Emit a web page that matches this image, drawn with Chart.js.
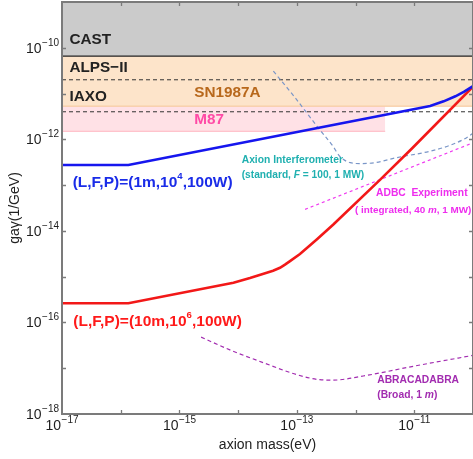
<!DOCTYPE html>
<html>
<head>
<meta charset="utf-8">
<script src="https://cdn.jsdelivr.net/npm/chart.js@4/dist/chart.umd.min.js"></script>
<style>
  html, body { margin: 0; padding: 0; background: #fff; }
  #wrap { width: 473px; height: 459px; position: relative; }
</style>
</head>
<body>
<div id="wrap"><canvas id="c" width="473" height="459"></canvas></div>
<script>
// ---- axis decades ----
const massTicks = [1e-17, 1e-16, 1e-15, 1e-14, 1e-13, 1e-12, 1e-11, 1e-10];
const massTickLabels = ['−17', '', '−15', '', '−13', '', '−11', ''];
const couplingTicks = [1e-18, 1e-17, 1e-16, 1e-15, 1e-14, 1e-13, 1e-12, 1e-11, 1e-10, 1e-9];
const couplingTickLabels = ['−18', '', '−16', '', '−14', '', '−12', '', '−10', ''];

// ---- sensitivity curves: axion mass (eV) and coupling (1/GeV) ----
const shortCavityMass = [1e-17, 1.35e-16, 1.86e-11, 3.16e-11, 5.01e-11, 7.08e-11, 1e-10];
const shortCavityCoupling = [2.75e-13, 2.75e-13, 5.37e-12, 6.76e-12, 8.71e-12, 1.10e-11, 1.45e-11];

const longCavityMass = [1e-17, 1.35e-16, 8.32e-15, 1.59e-14, 3.07e-14, 3.93e-14, 5.16e-14, 6.28e-14, 7.64e-14, 1.13e-13, 2.18e-13, 4.18e-13, 2.63e-12, 9.12e-12, 1e-10];
const longCavityCoupling = [2.63e-16, 2.63e-16, 7.36e-16, 9.33e-16, 1.22e-15, 1.35e-15, 1.56e-15, 1.83e-15, 2.18e-15, 3.13e-15, 6.50e-15, 1.38e-14, 1.32e-13, 6.31e-13, 1.41e-11];

const interferometerMass = [3.98e-14, 9.33e-14, 2.19e-13, 4.17e-13, 5.37e-13, 8.13e-13, 1.20e-12, 2.14e-12, 5.01e-12, 1.86e-11, 4.07e-11, 6.92e-11, 1e-10];
const interferometerCoupling = [3.09e-11, 8.13e-12, 1.95e-12, 6.92e-13, 4.27e-13, 3.09e-13, 2.95e-13, 3.09e-13, 3.98e-13, 5.50e-13, 7.41e-13, 1.00e-12, 1.35e-12];

const adbcMass = [1.38e-13, 1e-10];
const adbcCoupling = [2.95e-14, 8.41e-13];

const abracadabraMass = [2.34e-15, 7.24e-15, 2.69e-14, 1e-13, 2.45e-13, 4.17e-13, 1.35e-12, 9.55e-12, 1e-10];
const abracadabraCoupling = [4.79e-17, 2.51e-17, 1.32e-17, 7.24e-18, 5.62e-18, 5.50e-18, 6.76e-18, 1.10e-17, 1.91e-17];

// ---- excluded / projected bounds (1/GeV) ----
const boundMass = [1e-17, 1e-10];
const castLimit = 6.6e-11;
const alpsLimit = 2e-11;
const sn1987aLimit = 5.3e-12;
const iaxoLimit = 4e-12;
const m87Limit = 1.5e-12;
const m87Mass = [1e-17, 3.2e-12];

const pts = (xs, ys) => xs.map((x, i) => ({ x, y: ys[i] }));
const flat = (xs, v) => xs.map(x => ({ x, y: v }));

const FONT = '"Liberation Sans", Arial, Helvetica, sans-serif';

const base = { pointRadius: 0, pointHoverRadius: 0, tension: 0, fill: false };

const datasets = [
  { ...base, label: 'short', data: pts(shortCavityMass, shortCavityCoupling), borderColor: '#1616ee', borderWidth: 2.6, order: 0 },
  { ...base, label: 'long', data: pts(longCavityMass, longCavityCoupling), borderColor: '#f21818', borderWidth: 2.6, order: 1 },
  { ...base, label: 'interferometer', data: pts(interferometerMass, interferometerCoupling), borderColor: '#7a96c8', borderWidth: 1.2, borderDash: [4, 3], cubicInterpolationMode: 'monotone', order: 2 },
  { ...base, label: 'adbc', data: pts(adbcMass, adbcCoupling), borderColor: '#f03cf0', borderWidth: 1.2, borderDash: [3, 3], order: 3 },
  { ...base, label: 'abracadabra', data: pts(abracadabraMass, abracadabraCoupling), borderColor: '#a22cb0', borderWidth: 1.2, borderDash: [4, 3], cubicInterpolationMode: 'monotone', order: 4 },
  { ...base, label: 'alps', data: flat(boundMass, alpsLimit), borderColor: '#333', borderWidth: 1, borderDash: [4, 3], order: 5 },
  { ...base, label: 'iaxo', data: flat(boundMass, iaxoLimit), borderColor: '#333', borderWidth: 1, borderDash: [4, 3], order: 6 },
  { ...base, label: 'cast', data: flat(boundMass, castLimit), borderColor: '#222', borderWidth: 1.2, fill: 'end', backgroundColor: '#cbcbcb', order: 10 },
  { ...base, label: 'sn1987a', data: flat(boundMass, sn1987aLimit), borderColor: '#f6c495', borderWidth: 1, fill: 7, backgroundColor: '#fde4ca', order: 11 },
  { ...base, label: 'm87top', data: flat(m87Mass, sn1987aLimit), borderColor: 'rgba(0,0,0,0)', borderWidth: 0, order: 12 },
  { ...base, label: 'm87', data: flat(m87Mass, m87Limit), borderColor: '#ffb4c0', borderWidth: 1, fill: 9, backgroundColor: '#ffe1e6', order: 13 }
];

// text placed at (mass, coupling) anchors, left-aligned, vertically centred
const notes = [
  { m: 1.34e-17, g: 1.52e-10, size: 15.3, color: '#222', runs: [{ t: 'CAST' }] },
  { m: 1.34e-17, g: 3.58e-11, size: 15.3, color: '#222', runs: [{ t: 'ALPS−II' }] },
  { m: 1.34e-17, g: 8.63e-12, size: 15.3, color: '#222', runs: [{ t: 'IAXO' }] },
  { m: 1.79e-15, g: 1.02e-11, size: 15.3, color: '#b8681c', runs: [{ t: 'SN1987A' }] },
  { m: 1.79e-15, g: 2.65e-12, size: 15.3, color: '#ff4aa6', runs: [{ t: 'M87' }] },
  { m: 1.52e-17, g: 1.14e-13, size: 15.5, color: '#1a2ce8', runs: [{ t: '(L,F,P)=(1m,10' }, { t: '4', sup: true }, { t: ',100W)' }] },
  { m: 1.56e-17, g: 1.02e-16, size: 15.5, color: '#ff1a1a', runs: [{ t: '(L,F,P)=(10m,10' }, { t: '6', sup: true }, { t: ',100W)' }] },
  { m: 1.15e-14, g: 3.45e-13, size: 10.3, color: '#20b0b0', runs: [{ t: 'Axion Interferometer' }] },
  { m: 1.15e-14, g: 1.62e-13, size: 10.2, color: '#20b0b0', runs: [{ t: '(standard, ' }, { t: 'F', it: true }, { t: ' = 100, 1 MW)' }] },
  { m: 2.23e-12, g: 6.56e-14, size: 10.3, color: '#ee2cee', runs: [{ t: 'ADBC  Experiment' }] },
  { m: 9.77e-13, g: 2.86e-14, size: 9.9, color: '#ee2cee', runs: [{ t: '( integrated, 40 ' }, { t: 'm', it: true }, { t: ', 1 MW)' }] },
  { m: 2.34e-12, g: 5.41e-18, size: 10.3, color: '#a22cb0', runs: [{ t: 'ABRACADABRA' }] },
  { m: 2.34e-12, g: 2.54e-18, size: 10.3, color: '#a22cb0', runs: [{ t: '(Broad, 1 ' }, { t: 'm', it: true }, { t: ')' }] }
];

function runFont(size, r) {
  const fs = r.sup ? size * 0.62 : size;
  return (r.it ? 'italic ' : '') + 'bold ' + fs + 'px ' + FONT;
}

function drawRuns(ctx, runs, x, y, size, color) {
  ctx.fillStyle = color;
  ctx.textAlign = 'left';
  ctx.textBaseline = 'middle';
  let cx = x;
  runs.forEach(r => {
    ctx.font = runFont(size, r);
    ctx.fillText(r.t, cx, r.sup ? y - size * 0.42 : y);
    cx += ctx.measureText(r.t).width;
  });
}

// "10" with a raised exponent
function powerLabel(ctx, exp, x, y, align) {
  ctx.textBaseline = 'middle';
  ctx.textAlign = 'left';
  ctx.font = '14px ' + FONT;
  const wb = ctx.measureText('10').width;
  ctx.font = '10px ' + FONT;
  const we = ctx.measureText(exp).width;
  const total = wb + we + 0.5;
  const x0 = align === 'right' ? x - total : x - total / 2;
  ctx.fillStyle = '#1e1e1e';
  ctx.font = '14px ' + FONT;
  ctx.fillText('10', x0, y);
  ctx.font = '10px ' + FONT;
  ctx.fillText(exp, x0 + wb + 0.5, y - 6);
}

const frame = {
  id: 'frame',
  afterDatasetsDraw(chart) {
    const { ctx, chartArea: a, scales: { x, y } } = chart;
    ctx.save();
    ctx.strokeStyle = '#7b7b7b';
    ctx.lineWidth = 2;
    ctx.strokeRect(a.left, a.top, a.right - a.left, a.bottom - a.top);

    ctx.lineWidth = 1.3;
    ctx.beginPath();
    massTicks.forEach(v => {
      const px = Math.round(x.getPixelForValue(v)) + 0.5;
      if (px <= a.left + 1 || px >= a.right - 1) return;
      ctx.moveTo(px, a.bottom); ctx.lineTo(px, a.bottom - 4);
      ctx.moveTo(px, a.top); ctx.lineTo(px, a.top + 4);
    });
    couplingTicks.forEach(v => {
      const py = Math.round(y.getPixelForValue(v)) + 0.5;
      if (py <= a.top + 1 || py >= a.bottom - 1) return;
      ctx.moveTo(a.left, py); ctx.lineTo(a.left + 4, py);
      ctx.moveTo(a.right, py); ctx.lineTo(a.right - 4, py);
    });
    ctx.stroke();

    massTicks.forEach((v, i) => {
      if (massTickLabels[i]) powerLabel(ctx, massTickLabels[i], x.getPixelForValue(v), a.bottom + 12, 'center');
    });
    couplingTicks.forEach((v, i) => {
      if (couplingTickLabels[i]) powerLabel(ctx, couplingTickLabels[i], a.left - 3, y.getPixelForValue(v) + 1, 'right');
    });

    notes.forEach(n => drawRuns(ctx, n.runs, x.getPixelForValue(n.m), y.getPixelForValue(n.g), n.size, n.color));
    ctx.restore();
  }
};

new Chart(document.getElementById('c'), {
  type: 'line',
  data: { datasets },
  plugins: [frame],
  options: {
    responsive: false,
    devicePixelRatio: 1,
    animation: false,
    events: [],
    layout: { padding: { top: 2, right: 0, bottom: 0, left: 0 } },
    plugins: { legend: { display: false }, tooltip: { enabled: false } },
    scales: {
      x: {
        type: 'logarithmic', min: 1e-17, max: 1e-10,
        grid: { display: false, drawTicks: false },
        border: { display: false },
        ticks: { display: false },
        title: { display: true, text: 'axion mass(eV)', color: '#222', font: { family: FONT, size: 14, lineHeight: 1.2 }, padding: { top: 0, bottom: 5 } },
        afterFit: s => { s.height = 45; }
      },
      y: {
        type: 'logarithmic', min: 1e-18, max: 1e-9,
        grid: { display: false, drawTicks: false },
        border: { display: false },
        ticks: { display: false },
        title: { display: true, text: 'gaγ(1/GeV)', color: '#222', font: { family: FONT, size: 14, lineHeight: 1.2 }, padding: { top: 7, bottom: 0 } },
        afterFit: s => { s.width = 62; }
      }
    }
  }
});
</script>
</body>
</html>
